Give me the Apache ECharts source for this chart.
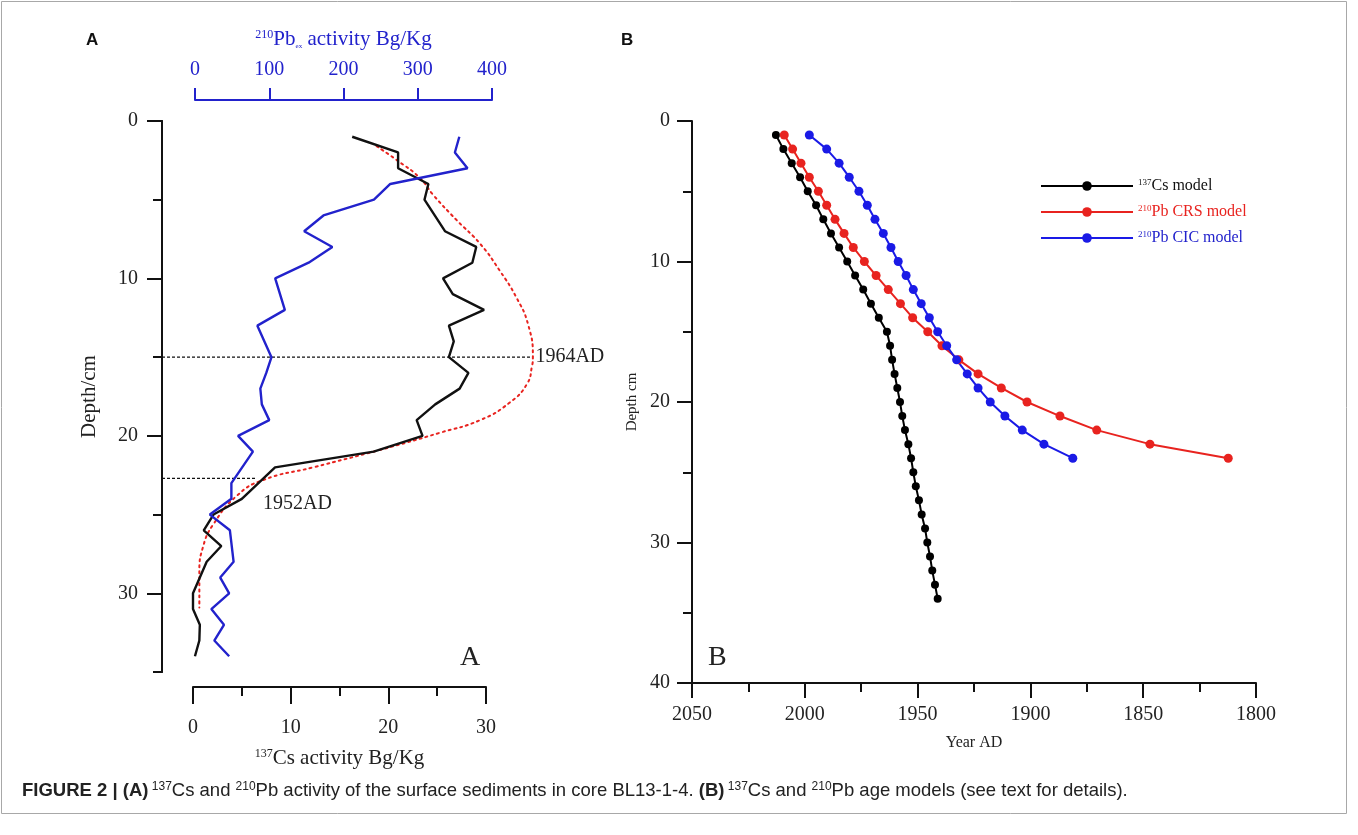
<!DOCTYPE html>
<html><head><meta charset="utf-8">
<script src="https://cdn.jsdelivr.net/npm/echarts@6/dist/echarts.min.js"></script>
<style>html,body{margin:0;padding:0;background:#fff}#c{width:1358px;height:835px}</style>
</head><body><div id="c"></div>
<script>
// ---------- Panel A data ----------
const csDepth = [1,2,3,4,5,7,8,9,10,11,12,13,14,15,16,17,18,19,20,21,22,23,24,25,26,27,28,29,30,31,32,33,34];
const csActivity = [16.3,21.0,21.0,24.1,23.7,25.8,29.0,28.6,25.6,26.6,29.8,26.2,26.7,26.2,28.2,27.3,24.8,22.9,23.5,18.5,8.4,6.7,5.0,2.1,1.1,2.9,1.4,0.7,0.0,0.0,0.7,0.65,0.2];
const pbDepth = [1,2,3,4,5,6,7,8,9,10,12,13,15,16,17,18,19,20,21,23,24,25,26,28,29,30,31,32,33,34];
const pbActivity = [356,350,367,263,241,173,147,185,153,108,121,84,103,96,88,90,100,58,78,49,49,20,47,52,34,46,22,39,26,46];
const fitDepth = [1.6,2.5,3.6,4.7,6.3,7.8,9.5,11.2,12.9,15,15.6,16.7,17.9,19,19.8,20.9,22,22.8,23.8,25.6,27,28.7,30.9];
const fitCs = [18.8,20.9,23.2,24.6,27.0,29.4,31.4,33.1,34.3,34.8,34.7,34.2,32.4,29.4,25.3,19.1,12.3,7.2,4.5,2.1,1.05,0.65,0.65];
const depthTicksA = [0, 10, 20, 30];
const markerDepth = [15, 22.7];
const markerLabel = ['1964AD', '1952AD'];
const markerEndCs = [34.8, 6.4];
// ---------- Panel B data ----------
const csModelDepth = [1,2,3,4,5,6,7,8,9,10,11,12,13,14,15,16,17,18,19,20,21,22,23,24,25,26,27,28,29,30,31,32,33,34];
const csModelYear = [2012.8,2009.5,2005.8,2002.1,1998.7,1995.0,1991.8,1988.4,1984.8,1981.2,1977.7,1974.1,1970.7,1967.2,1963.6,1962.2,1961.3,1960.2,1959.0,1957.8,1956.8,1955.6,1954.1,1952.9,1951.9,1950.8,1949.4,1948.2,1946.7,1945.7,1944.5,1943.5,1942.3,1941.1];
const pbModelDepth = [1,2,3,4,5,6,7,8,9,10,11,12,13,14,15,16,17,18,19,20,21,22,23,24];
const crsYear = [2009.1,2005.4,2001.7,1998.0,1994.0,1990.3,1986.6,1982.6,1978.5,1973.6,1968.4,1963.0,1957.6,1952.2,1945.5,1939.2,1931.7,1923.2,1912.9,1901.5,1886.9,1870.6,1847.0,1812.3];
const cicYear = [1998.0,1990.3,1984.8,1980.3,1976.0,1972.3,1968.9,1965.2,1961.8,1958.6,1955.1,1951.9,1948.4,1944.8,1941.1,1937.1,1932.7,1928.0,1923.2,1917.8,1911.3,1903.6,1894.0,1881.2];
const seriesNames = ['137Cs model', '210Pb CRS model', '210Pb CIC model'];

// ---------- layout ----------
const SERIF = 'Liberation Serif';
const BLUE = '#2222cc';
const RED = '#e8231f';
const A_TOP = 121, A_H = 551;
const CS_LEFT = 193, CS_W = 293, CS_MAX = 30;     // visible Cs axis
const AX_LEFT = 162;                              // depth axis line
const DATA_W = 440;                               // wider plotting area for curve / markers
const pxPerCs = CS_W / CS_MAX;
const dataMin = (AX_LEFT - CS_LEFT) / pxPerCs;
const dataMax = dataMin + DATA_W / pxPerCs;

const zip = (xs, ys) => xs.map((x, i) => [x, ys[i]]);
const chart = echarts.init(document.getElementById('c'), null, {renderer: 'canvas'});
const axisTxt = {fontFamily: SERIF, fontSize: 20, color: '#222'};
const blackLine = {onZero: false, lineStyle: {color: '#111', width: 2}};

const option = {
  animation: false,
  backgroundColor: '#fff',
  grid: [
    {left: CS_LEFT, width: CS_W, top: A_TOP, height: A_H},
    {left: 195, width: 297, top: A_TOP, height: A_H},
    {left: 692, right: 102, top: 121, height: 562},
    {left: AX_LEFT, width: DATA_W, top: A_TOP, height: A_H}
  ],
  xAxis: [
    {gridIndex: 0, type: 'value', position: 'bottom', offset: 15, min: 0, max: CS_MAX, interval: 10,
     axisLine: blackLine, axisTick: {length: 17, lineStyle: {width: 2}},
     minorTick: {show: true, splitNumber: 2, length: 9, lineStyle: {color: '#111', width: 2}},
     splitLine: {show: false}, axisLabel: Object.assign({margin: 31}, axisTxt),
     name: '{s|137}{t|Cs activity Bg/Kg}', nameLocation: 'middle', nameGap: 61,
     nameTextStyle: {rich: {s: {fontFamily: SERIF, fontSize: 12, verticalAlign: 'top', color: '#222'}, t: {fontFamily: SERIF, fontSize: 21, color: '#222'}}}},
    {gridIndex: 1, type: 'value', position: 'top', offset: 21, min: 0, max: 400, interval: 100,
     axisLine: {onZero: false, lineStyle: {color: BLUE, width: 2}}, axisTick: {length: 12, lineStyle: {width: 2}},
     splitLine: {show: false}, axisLabel: {margin: 20, fontFamily: SERIF, fontSize: 20, color: BLUE},
     name: '{s|210}{t|Pb}{b|ex}{t| activity Bg/Kg}', nameLocation: 'middle', nameGap: 50,
     nameTextStyle: {rich: {s: {fontFamily: SERIF, fontSize: 12, verticalAlign: 'top', color: BLUE},
       t: {fontFamily: SERIF, fontSize: 21, color: BLUE}, b: {fontFamily: SERIF, fontSize: 7, verticalAlign: 'bottom', color: BLUE}}}},
    {gridIndex: 2, type: 'value', position: 'bottom', min: 1800, max: 2050, interval: 50, inverse: true,
     axisLine: blackLine, axisTick: {length: 15, lineStyle: {width: 2}},
     minorTick: {show: true, splitNumber: 2, length: 9, lineStyle: {color: '#111', width: 2}},
     splitLine: {show: false}, axisLabel: Object.assign({margin: 22, formatter: v => String(v)}, axisTxt),
     name: 'Year AD', nameLocation: 'middle', nameGap: 52, nameTextStyle: {fontFamily: SERIF, fontSize: 16, color: '#222'}},
    {gridIndex: 3, type: 'value', show: false, min: dataMin, max: dataMax}
  ],
  yAxis: [
    {gridIndex: 0, type: 'value', position: 'left', offset: CS_LEFT - AX_LEFT, min: 0, max: 35, interval: 10, inverse: true,
     axisLine: blackLine, axisTick: {length: 15, lineStyle: {width: 2}, customValues: depthTicksA},
     splitLine: {show: false}, axisLabel: Object.assign({margin: 24, customValues: depthTicksA}, axisTxt),
     name: 'Depth/cm', nameLocation: 'middle', nameGap: 62, nameRotate: 90,
     nameTextStyle: {fontFamily: SERIF, fontSize: 21, color: '#222'}},
    {gridIndex: 0, type: 'value', position: 'left', offset: CS_LEFT - AX_LEFT, min: 0, max: 35, interval: 5, inverse: true,
     axisLine: blackLine, axisTick: {length: 9, lineStyle: {width: 2}},
     splitLine: {show: false}, axisLabel: {show: false}},
    {gridIndex: 1, type: 'value', show: false, min: 0, max: 35, inverse: true},
    {gridIndex: 2, type: 'value', position: 'left', min: 0, max: 40, interval: 10, inverse: true,
     axisLine: blackLine, axisTick: {length: 15, lineStyle: {width: 2}},
     minorTick: {show: true, splitNumber: 2, length: 9, lineStyle: {color: '#111', width: 2}},
     splitLine: {show: false}, axisLabel: Object.assign({margin: 22}, axisTxt),
     name: 'Depth cm', nameLocation: 'middle', nameGap: 52, nameRotate: 90,
     nameTextStyle: {fontFamily: SERIF, fontSize: 15, color: '#222'}},
    {gridIndex: 3, type: 'value', show: false, min: 0, max: 35, inverse: true}
  ],
  legend: {
    orient: 'vertical', left: 1035, top: 173, itemWidth: 92, itemHeight: 12, itemGap: 10,
    data: seriesNames,
    formatter: function (n) {
      if (n === seriesNames[0]) return '{ks|137}{kt|Cs model}';
      if (n === seriesNames[1]) return '{rs|210}{rt|Pb CRS model}';
      return '{bs|210}{bt|Pb CIC model}';
    },
    textStyle: {rich: {
      ks: {fontFamily: SERIF, fontSize: 9, verticalAlign: 'top', color: '#111'},
      kt: {fontFamily: SERIF, fontSize: 16, color: '#111'},
      rs: {fontFamily: SERIF, fontSize: 9, verticalAlign: 'top', color: RED},
      rt: {fontFamily: SERIF, fontSize: 16, color: RED},
      bs: {fontFamily: SERIF, fontSize: 9, verticalAlign: 'top', color: BLUE},
      bt: {fontFamily: SERIF, fontSize: 16, color: BLUE}
    }}
  },
  series: [
    {type: 'line', name: 'cs', xAxisIndex: 3, yAxisIndex: 4, data: zip(csActivity, csDepth), showSymbol: false,
     lineStyle: {color: '#111', width: 2.4}, z: 4},
    {type: 'line', name: 'fit', xAxisIndex: 3, yAxisIndex: 4, data: zip(fitCs, fitDepth), showSymbol: false, smooth: true,
     lineStyle: {color: RED, width: 2, type: [2, 4], cap: 'round'}, z: 3},
    {type: 'line', name: 'pb', xAxisIndex: 1, yAxisIndex: 2, data: zip(pbActivity, pbDepth), showSymbol: false,
     lineStyle: {color: BLUE, width: 2.4}, z: 4},
    ...markerDepth.map((d, i) => ({
      type: 'line', name: 'm' + i, xAxisIndex: 3, yAxisIndex: 4, showSymbol: true, symbol: 'circle', symbolSize: 1,
      itemStyle: {color: 'rgba(0,0,0,0)'},
      lineStyle: {color: '#111', width: 1.3, type: [3, 2]}, z: 2,
      data: [[dataMin, d], {value: [markerEndCs[i], d],
        label: {show: true, position: 'right', distance: i === 0 ? 2 : 7, offset: i === 0 ? [0, 0] : [0, 25],
          formatter: markerLabel[i], fontFamily: SERIF, fontSize: 20, color: '#222'}}]
    })),
    {type: 'line', name: seriesNames[0], xAxisIndex: 2, yAxisIndex: 3, data: zip(csModelYear, csModelDepth),
     symbol: 'circle', symbolSize: 8, itemStyle: {color: '#000'}, lineStyle: {color: '#000', width: 2}},
    {type: 'line', name: seriesNames[1], xAxisIndex: 2, yAxisIndex: 3, data: zip(crsYear, pbModelDepth),
     symbol: 'circle', symbolSize: 9, itemStyle: {color: RED}, lineStyle: {color: RED, width: 2}},
    {type: 'line', name: seriesNames[2], xAxisIndex: 2, yAxisIndex: 3, data: zip(cicYear, pbModelDepth),
     symbol: 'circle', symbolSize: 9, itemStyle: {color: '#1a1ae6'}, lineStyle: {color: '#1a1ae6', width: 2}}
  ],
  graphic: [
    {type: 'rect', shape: {x: 1.5, y: 1.5, width: 1345, height: 812}, style: {fill: 'none', stroke: '#a8a8a8', lineWidth: 1}, silent: true, z: -1},
    {type: 'text', left: 86, top: 32, style: {text: 'A', font: 'bold 17px "Liberation Sans"', fill: '#111'}},
    {type: 'text', left: 621, top: 32, style: {text: 'B', font: 'bold 17px "Liberation Sans"', fill: '#111'}},
    {type: 'text', left: 460, top: 644, style: {text: 'A', font: '28px "Liberation Serif"', fill: '#222'}},
    {type: 'text', left: 708, top: 644, style: {text: 'B', font: '28px "Liberation Serif"', fill: '#222'}},
    {type: 'text', left: 22, top: 781, style: {
      text: '{b|FIGURE 2 | (A)} {s|137}{t|Cs and }{s|210}{t|Pb activity of the surface sediments in core BL13-1-4. }{b|(B)} {s|137}{t|Cs and }{s|210}{t|Pb age models (see text for details).}',
      rich: {
        b: {fontFamily: 'Liberation Sans', fontWeight: 'bold', fontSize: 18.5, fill: '#222'},
        t: {fontFamily: 'Liberation Sans', fontSize: 18.5, fill: '#222'},
        s: {fontFamily: 'Liberation Sans', fontSize: 12, verticalAlign: 'top', fill: '#222'}
      }}}
  ]
};
chart.setOption(option);
</script></body></html>
